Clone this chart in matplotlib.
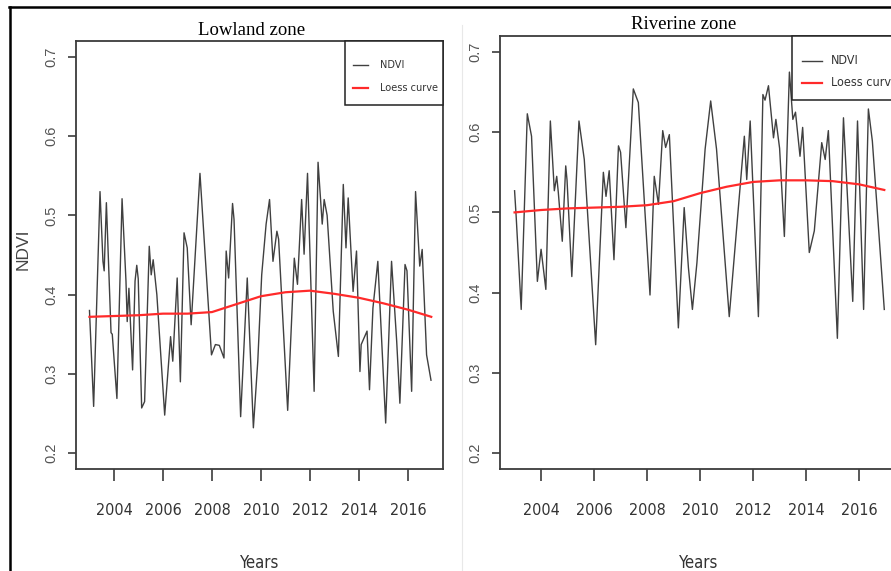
import matplotlib.pyplot as plt
from matplotlib.lines import Line2D
from matplotlib.patches import Rectangle
from matplotlib.font_manager import FontProperties

# NDVI series (decimal year, value) for both zones
lowland_t = [2003.00, 2003.17, 2003.37, 2003.43, 2003.55, 2003.60, 2003.69, 2003.88, 2003.93,
             2004.12, 2004.33, 2004.49, 2004.54, 2004.61, 2004.67, 2004.76, 2004.86, 2004.93,
             2004.99, 2005.13, 2005.25, 2005.44, 2005.52, 2005.60, 2005.75, 2006.07, 2006.31,
             2006.40, 2006.58, 2006.71, 2006.86, 2006.99, 2007.15, 2007.51, 2007.98, 2008.14,
             2008.30, 2008.49, 2008.58, 2008.68, 2008.84, 2008.90, 2009.17, 2009.44, 2009.69,
             2009.87, 2010.03, 2010.21, 2010.35, 2010.49, 2010.65, 2010.72, 2011.09, 2011.36,
             2011.49, 2011.66, 2011.76, 2011.90, 2012.17, 2012.33, 2012.50, 2012.58, 2012.70,
             2012.95, 2013.16, 2013.36, 2013.47, 2013.56, 2013.76, 2013.90, 2014.04, 2014.09,
             2014.33, 2014.43, 2014.57, 2014.77, 2015.09, 2015.33, 2015.54, 2015.67, 2015.88,
             2015.96, 2016.15, 2016.31, 2016.48, 2016.58, 2016.76, 2016.94]
lowland_ndvi = [0.380, 0.259, 0.467, 0.530, 0.442, 0.430, 0.516, 0.352, 0.350,
                0.269, 0.521, 0.417, 0.366, 0.408, 0.366, 0.305, 0.417, 0.437,
                0.420, 0.257, 0.265, 0.461, 0.425, 0.444, 0.400, 0.248, 0.347,
                0.316, 0.421, 0.290, 0.478, 0.459, 0.362, 0.553, 0.324, 0.337,
                0.336, 0.320, 0.455, 0.421, 0.515, 0.495, 0.246, 0.421, 0.232,
                0.316, 0.425, 0.489, 0.520, 0.442, 0.480, 0.470, 0.254, 0.446,
                0.413, 0.520, 0.451, 0.553, 0.278, 0.567, 0.489, 0.520, 0.500,
                0.379, 0.322, 0.539, 0.459, 0.522, 0.404, 0.455, 0.303, 0.337,
                0.354, 0.280, 0.383, 0.442, 0.238, 0.442, 0.341, 0.263, 0.438,
                0.430, 0.278, 0.530, 0.436, 0.457, 0.324, 0.292]

riverine_t = [2003.00, 2003.06, 2003.25, 2003.48, 2003.64, 2003.86, 2004.00, 2004.18, 2004.35,
              2004.50, 2004.59, 2004.65, 2004.80, 2004.93, 2004.98, 2005.16, 2005.43, 2005.63,
              2006.06, 2006.35, 2006.45, 2006.57, 2006.75, 2006.92, 2007.00, 2007.20, 2007.48,
              2007.67, 2008.11, 2008.27, 2008.43, 2008.59, 2008.70, 2008.84, 2009.18, 2009.40,
              2009.56, 2009.71, 2009.88, 2010.19, 2010.40, 2010.62, 2011.10, 2011.67, 2011.76,
              2011.89, 2012.20, 2012.37, 2012.45, 2012.58, 2012.77, 2012.86, 2013.00, 2013.18,
              2013.37, 2013.50, 2013.60, 2013.77, 2013.87, 2014.12, 2014.31, 2014.59, 2014.72,
              2014.84, 2015.18, 2015.41, 2015.76, 2015.94, 2016.17, 2016.35, 2016.50, 2016.95]
riverine_ndvi = [0.527, 0.495, 0.379, 0.623, 0.595, 0.414, 0.454, 0.404, 0.614,
                 0.527, 0.545, 0.525, 0.464, 0.558, 0.540, 0.420, 0.614, 0.566,
                 0.335, 0.550, 0.520, 0.552, 0.441, 0.583, 0.575, 0.481, 0.654,
                 0.637, 0.397, 0.545, 0.510, 0.602, 0.581, 0.597, 0.356, 0.506,
                 0.431, 0.379, 0.437, 0.579, 0.639, 0.579, 0.370, 0.595, 0.541,
                 0.614, 0.370, 0.647, 0.640, 0.658, 0.593, 0.616, 0.580, 0.470,
                 0.675, 0.616, 0.625, 0.570, 0.606, 0.450, 0.477, 0.587, 0.566,
                 0.602, 0.343, 0.618, 0.389, 0.614, 0.379, 0.629, 0.589, 0.379]

# loess trend, sampled yearly
loess_t = [2003, 2004, 2005, 2006, 2007, 2008, 2009, 2010, 2011, 2012, 2013, 2014, 2015, 2016, 2016.95]
lowland_loess = [0.372, 0.373, 0.374, 0.376, 0.376, 0.378, 0.388, 0.398, 0.403, 0.405, 0.401,
                 0.396, 0.389, 0.381, 0.372]
riverine_loess = [0.500, 0.503, 0.505, 0.506, 0.507, 0.509, 0.514, 0.524, 0.532, 0.538, 0.540,
                  0.540, 0.539, 0.535, 0.528]

year_ticks = [2004, 2006, 2008, 2010, 2012, 2014, 2016]
ndvi_ticks = [0.2, 0.3, 0.4, 0.5, 0.6, 0.7]
series_names = ['NDVI', 'Loess curve']

W, H = 891, 571
SANS = ['Liberation Sans', 'DejaVu Sans']
SERIF = ['Liberation Serif', 'DejaVu Serif']
AXIS_GREY = '#3c3c3c'
NDVI_COLOR = '#404040'
LOESS_COLOR = '#ff2a2a'


def narrow(size):
    return FontProperties(family='DejaVu Sans', stretch='condensed', size=size)


fig = plt.figure(figsize=(W / 100, H / 100), dpi=100)


def fx(x):
    return x / W


def fy(y):
    return 1 - y / H


def px_box(x0, y0, x1, y1):
    return [fx(x0), fy(y1), (x1 - x0) / W, (y1 - y0) / H]


def key_box(x0, y0, x1, y1, line_x0, line_x1, text_x, rows_y, size):
    # boxed key in the top right corner of a panel
    fig.add_artist(Rectangle((fx(x0), fy(y1)), (x1 - x0) / W, (y1 - y0) / H,
                             transform=fig.transFigure, facecolor='white',
                             edgecolor='#222222', lw=1.1, zorder=5))
    for name, color, lw, ry in zip(series_names, [NDVI_COLOR, LOESS_COLOR], [1.0, 1.6], rows_y):
        fig.add_artist(Line2D([fx(line_x0), fx(line_x1)], [fy(ry), fy(ry)],
                              color=color, lw=lw, zorder=6))
        fig.text(fx(text_x), fy(ry), name, fontproperties=narrow(size), color='#333333',
                 ha='left', va='center', zorder=6)


def panel(rect, t, ndvi, loess):
    ax = fig.add_axes(rect)
    ax.plot(t, ndvi, color=NDVI_COLOR, lw=1.0)
    ax.plot(loess_t, loess, color=LOESS_COLOR, lw=1.6)
    ax.set_xlim(2002.45, 2017.43)
    ax.set_ylim(0.18, 0.72)
    for s in ax.spines.values():
        s.set_color(AXIS_GREY)
        s.set_linewidth(1.3)
    ax.set_xticks(year_ticks)
    ax.set_xticklabels([str(y) for y in year_ticks], fontproperties=narrow(11.5), color='#333333')
    ax.set_yticks(ndvi_ticks)
    ax.set_yticklabels([f'{v:.1f}' for v in ndvi_ticks], family=SANS, fontsize=10.5,
                       color='#555555', rotation=90, va='center')
    ax.tick_params(axis='x', direction='out', length=8.6, width=1.2, pad=16, color=AXIS_GREY)
    ax.tick_params(axis='y', direction='out', length=5.8, width=1.2, pad=7, color=AXIS_GREY)
    return ax


panel(px_box(76, 41, 443, 469), lowland_t, lowland_ndvi, lowland_loess)
panel(px_box(500, 36, 897, 469), riverine_t, riverine_ndvi, riverine_loess)

key_box(345, 41, 443, 105, 353, 368, 380, [65, 88], 7.8)
key_box(792, 36, 900, 100, 802, 822, 831, [61, 83], 9)

# titles and axis labels
fig.text(251.5 / W, 1 - 35 / H, 'Lowland zone', family=SERIF, fontsize=13.5, ha='center', va='baseline')
fig.text(684 / W, 1 - 29 / H, 'Riverine zone', family=SERIF, fontsize=13.5, ha='center', va='baseline')
fig.text(23 / W, 1 - 249 / H, 'NDVI', family=SANS, fontsize=12.5, color='#444444',
         rotation=90, ha='center', va='center')
fig.text(260 / W, 1 - 563 / H, 'Years', fontproperties=narrow(12), color='#333333',
         ha='center', va='center')
fig.text(699 / W, 1 - 563 / H, 'Years', fontproperties=narrow(12), color='#333333',
         ha='center', va='center')

# frame lines around the composite
fig.add_artist(Line2D([9 / W, 1], [1 - 7 / H, 1 - 7 / H], color='black', lw=1.8))
fig.add_artist(Line2D([10 / W, 10 / W], [0, 1 - 7 / H], color='black', lw=1.8))
fig.add_artist(Line2D([462 / W, 462 / W], [0, 1 - 25 / H], color='#e8e8e8', lw=0.8))

fig.savefig('out.png', dpi=100)
